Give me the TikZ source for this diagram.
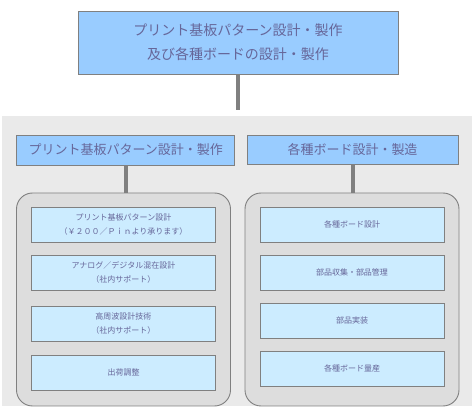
\documentclass[tikz,border=0pt]{standalone}
\usepackage{fontspec}
\setmainfont{Noto Sans CJK JP}
\definecolor{linegray}{HTML}{808080}
\definecolor{headblue}{HTML}{99CCFF}
\definecolor{itemblue}{HTML}{CCECFF}
\definecolor{panelgray}{HTML}{DDDDDD}
\definecolor{bggray}{HTML}{EAEAEA}
\definecolor{txt}{HTML}{666699}
\begin{document}
\begin{tikzpicture}
[x=1pt,y=-1pt,
 head/.style={draw=linegray,line width=0.9pt,fill=headblue,text=txt,inner sep=0pt,align=center},
 item/.style={draw=linegray,line width=0.9pt,fill=itemblue,text=txt,inner sep=0pt,align=center,
   minimum width=184pt,minimum height=35pt,font=\fontsize{8}{14}\selectfont},
 panel/.style={draw=linegray,line width=0.9pt,fill=panelgray,rounded corners=16pt,
   minimum width=214pt,minimum height=213pt,inner sep=0pt},
 link/.style={draw=linegray,line width=4pt}]
\useasboundingbox (0,0) rectangle (475,409);
\fill[bggray] (2,116) rectangle (472,406);

\node[head,minimum width=320pt,minimum height=63pt,font=\fontsize{14}{24}\selectfont] (top) at (238,42.5)
  {プリント基板パターン設計・製作\\及び各種ボードの設計・製作};
\coordinate (drop) at (238,110);
\draw[link] (top.south) -- (drop);

\node[head,minimum width=218pt,minimum height=30pt,font=\fontsize{13}{16}\selectfont] (pcb) at (125.7,150)
  {プリント基板パターン設計・製作};
\node[head,minimum width=211pt,minimum height=29pt,font=\fontsize{13}{16}\selectfont] (board) at (352.5,149.5)
  {各種ボード設計・製造};

\node[panel] (pcbpanel) at (123.5,299.5) {};
\node[panel] (boardpanel) at (352,299.5) {};
\draw[link] (pcb.south) -- (pcb.south |- pcbpanel.north);
\draw[link] (board.south) -- (board.south |- boardpanel.north);

\foreach \n/\y/\t in {1/224.8/{プリント基板パターン設計\\（￥２００／Ｐｉｎより承ります）},
  2/272.8/{アナログ／デジタル混在設計\\（社内サポート）},
  3/323.5/{高周波設計技術\\（社内サポート）},
  4/372.8/{出荷調整}}
{
  \node[item] (pcb\n) at (123.5,\y) {\t};
}

\foreach \n/\y/\t in {1/224.8/{各種ボード設計},
  2/272.8/{部品収集・部品管理},
  3/320.8/{部品実装},
  4/368.8/{各種ボード量産}}
{
  \node[item] (board\n) at (352,\y) {\t};
}
\end{tikzpicture}
\end{document}
